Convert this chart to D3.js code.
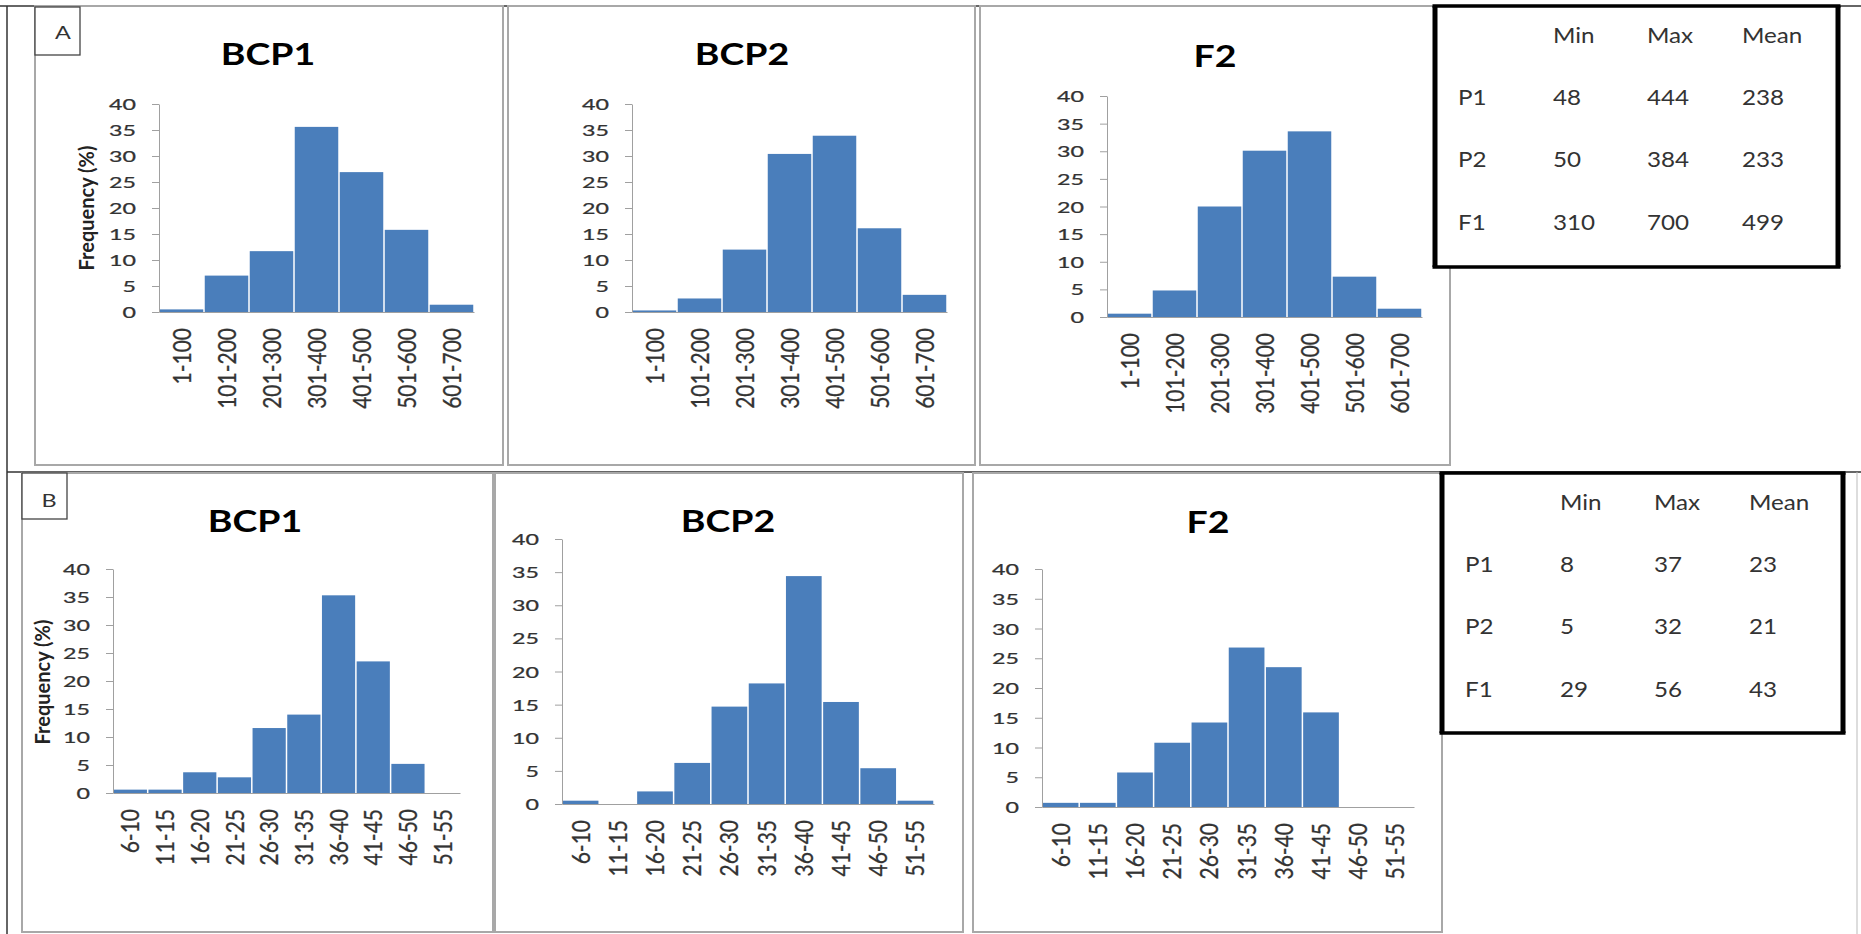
<!DOCTYPE html>
<html>
<head>
<meta charset="utf-8">
<script src="https://cdnjs.cloudflare.com/ajax/libs/d3/7.8.5/d3.min.js"></script>
<style>
	body { margin: 0; background: #fff; }
	svg { display: block; font-family: Lato, "Open Sans", sans-serif; }
</style>
</head>
<body>
<script>
// bin labels
var binsA = ["1-100", "101-200", "201-300", "301-400", "401-500", "501-600", "601-700"];
var binsB = ["6-10", "11-15", "16-20", "21-25", "26-30", "31-35", "36-40", "41-45", "46-50", "51-55"];

// frequency (%) per bin
var aBCP1 = [0.5, 7.0, 11.7, 35.6, 26.9, 15.8, 1.4];
var aBCP2 = [0.3, 2.6, 12.0, 30.4, 33.9, 16.1, 3.3];
var aF2   = [0.6, 4.8, 20.0, 30.1, 33.6, 7.3, 1.5];
var bBCP1 = [0.6, 0.6, 3.7, 2.8, 11.6, 14.0, 35.3, 23.5, 5.2, 0];
var bBCP2 = [0.5, 0, 1.9, 6.2, 14.7, 18.2, 34.4, 15.4, 5.4, 0.5];
var bF2   = [0.7, 0.7, 5.8, 10.8, 14.2, 26.8, 23.5, 15.9, 0, 0];

var yTicks = [0, 5, 10, 15, 20, 25, 30, 35, 40];

// summary tables
var statCols = ["Min", "Max", "Mean"];
var statRows = ["P1", "P2", "F1"];
var statsA = [[48, 444, 238], [50, 384, 233], [310, 700, 499]];
var statsB = [[8, 37, 23], [5, 32, 21], [29, 56, 43]];

var width = 1861;
var height = 934;
var barColor = "#4a7ebb";
var axisColor = "#a0a0a0";
var labelColor = "#333";

var svg = d3.select("body").append("svg")
	.attr("width", width)
	.attr("height", height);

/* outer frame */
var frame = svg.append("g").attr("stroke", "#333").attr("fill", "none");
frame.append("line").attr("x1", 0).attr("x2", width).attr("y1", 6).attr("y2", 6).attr("stroke-width", 1.5);
frame.append("line").attr("x1", 7).attr("x2", 7).attr("y1", 6).attr("y2", height).attr("stroke-width", 1.5);
frame.append("line").attr("x1", 7).attr("x2", width).attr("y1", 472).attr("y2", 472).attr("stroke-width", 1.5);
frame.append("line").attr("x1", 1857).attr("x2", 1857).attr("y1", 472).attr("y2", height)
	.attr("stroke", "#bbb").attr("stroke-width", 1);

var panels = [
	{ title: "BCP1", cats: binsA, values: aBCP1, box: [35, 6, 503, 465], xr: [159, 474], yr: [312, 104], tx: 268, ty: 65, ylab: [87, 208] },
	{ title: "BCP2", cats: binsA, values: aBCP2, box: [508, 6, 975, 465], xr: [632, 947], yr: [312, 104], tx: 742, ty: 65 },
	{ title: "F2",   cats: binsA, values: aF2,   box: [980, 6, 1450, 465], xr: [1107, 1422], yr: [317, 96], tx: 1215, ty: 67 },
	{ title: "BCP1", cats: binsB, values: bBCP1, box: [22, 473, 493, 932], xr: [113, 460], yr: [793, 569], tx: 255, ty: 532, ylab: [43, 682] },
	{ title: "BCP2", cats: binsB, values: bBCP2, box: [495, 473, 963, 932], xr: [562, 934], yr: [804, 539], tx: 728, ty: 532 },
	{ title: "F2",   cats: binsB, values: bF2,   box: [973, 473, 1442, 932], xr: [1042, 1414], yr: [807, 569], tx: 1208, ty: 533 }
];

panels.forEach(drawPanel);

function drawPanel(p) {
	var g = svg.append("g");

	g.append("rect")
		.attr("x", p.box[0]).attr("y", p.box[1])
		.attr("width", p.box[2] - p.box[0]).attr("height", p.box[3] - p.box[1])
		.attr("fill", "#fff")
		.attr("stroke", "#a8a8a8")
		.attr("stroke-width", 2);

	var x = d3.scaleBand().domain(p.cats).range(p.xr).padding(0);
	var y = d3.scaleLinear().domain([0, 40]).range(p.yr);

	g.append("text")
		.attr("text-anchor", "middle")
		.attr("font-weight", "bold")
		.attr("font-size", 30)
		.attr("fill", "#000")
		.attr("transform", "translate(" + p.tx + "," + p.ty + ") scale(1.25,1)")
		.text(p.title);

	// bars touch each other, split by a thin white gap
	var gap = 1.5;
	g.selectAll(".bar")
		.data(p.values.map(function(v, i) { return { cat: p.cats[i], v: v }; })
			.filter(function(d) { return d.v > 0; }))
		.enter().append("rect")
			.attr("x", function(d) { return x(d.cat) + gap / 2; })
			.attr("y", function(d) { return y(d.v); })
			.attr("width", x.bandwidth() - gap)
			.attr("height", function(d) { return y(0) - y(d.v); })
			.attr("fill", barColor);

	var yAxis = g.append("g")
		.attr("transform", "translate(" + p.xr[0] + ",0)")
		.call(d3.axisLeft(y).tickValues(yTicks).tickSize(7).tickSizeOuter(0));
	yAxis.attr("font-size", null).attr("font-family", null);
	yAxis.selectAll("path, line").attr("stroke", axisColor);
	yAxis.selectAll(".tick text")
		.attr("x", 0)
		.attr("dy", "0.36em")
		.attr("font-size", 15.5)
		.attr("fill", labelColor)
		.attr("stroke", labelColor)
		.attr("stroke-width", 0.25)
		.attr("transform", "translate(-23,0) scale(1.5,1)");

	var xAxis = g.append("g")
		.attr("transform", "translate(0," + p.yr[0] + ")")
		.call(d3.axisBottom(x).tickSize(0).tickSizeOuter(0));
	xAxis.attr("font-size", null).attr("font-family", null);
	xAxis.select(".domain").attr("stroke", axisColor);
	xAxis.selectAll(".tick text")
		.attr("x", 0)
		.attr("y", 0)
		.attr("dy", "0.36em")
		.attr("text-anchor", "end")
		.attr("font-size", 21)
		.attr("fill", labelColor)
		.attr("stroke", labelColor)
		.attr("stroke-width", 0.25)
		.attr("transform", "translate(0,16) scale(1.2,1) rotate(-90)");

	if (p.ylab) {
		g.append("text")
			.attr("text-anchor", "middle")
			.attr("dy", "0.36em")
			.attr("font-weight", "bold")
			.attr("font-size", 20)
			.attr("fill", "#222")
			.attr("transform", "translate(" + p.ylab[0] + "," + p.ylab[1] + ") rotate(-90)")
			.text("Frequency (%)");
	}
}

/* panel letters */
var tags = [
	{ t: "A", box: [35, 7, 80, 55], tx: 63, ty: 39 },
	{ t: "B", box: [22, 473, 67, 519], tx: 49, ty: 507 }
];
tags.forEach(function(d) {
	svg.append("rect")
		.attr("x", d.box[0]).attr("y", d.box[1])
		.attr("width", d.box[2] - d.box[0]).attr("height", d.box[3] - d.box[1])
		.attr("fill", "#fff").attr("stroke", "#444").attr("stroke-width", 1.3);
	svg.append("text")
		.attr("text-anchor", "middle")
		.attr("font-size", 18)
		.attr("fill", "#333")
		.attr("transform", "translate(" + d.tx + "," + d.ty + ") scale(1.3,1)")
		.text(d.t);
});

/* summary tables */
drawTable(statsA, [1435, 6, 1838, 267]);
drawTable(statsB, [1442, 473, 1843, 733]);

function drawTable(stats, b) {
	var g = svg.append("g");
	g.append("rect")
		.attr("x", b[0]).attr("y", b[1])
		.attr("width", b[2] - b[0]).attr("height", b[3] - b[1])
		.attr("fill", "#fff");
	g.append("path")
		.attr("d", "M" + b[0] + "," + b[1] + "V" + b[3] + "M" + b[2] + "," + b[1] + "V" + b[3])
		.attr("stroke", "#000").attr("stroke-width", 5).attr("fill", "none");
	g.append("path")
		.attr("d", "M" + (b[0] - 2.5) + "," + b[1] + "H" + (b[2] + 2.5) + "M" + (b[0] - 2.5) + "," + b[3] + "H" + (b[2] + 2.5))
		.attr("stroke", "#000").attr("stroke-width", 3.5).attr("fill", "none");

	var colX = d3.scaleOrdinal().domain(["row"].concat(statCols)).range([23, 118, 212, 307]);
	var rowY = d3.scaleOrdinal().domain(["head"].concat(statRows)).range([37, 99, 161, 224]);

	function cell(txt, col, row) {
		g.append("text")
			.attr("font-size", 22)
			.attr("fill", "#333")
			.attr("transform", "translate(" + (b[0] + colX(col)) + "," + (b[1] + rowY(row)) + ") scale(1.1,1)")
			.text(txt);
	}

	statCols.forEach(function(c) { cell(c, c, "head"); });
	statRows.forEach(function(r, i) {
		cell(r, "row", r);
		statCols.forEach(function(c, j) { cell(stats[i][j], c, r); });
	});
}
</script>
</body>
</html>
